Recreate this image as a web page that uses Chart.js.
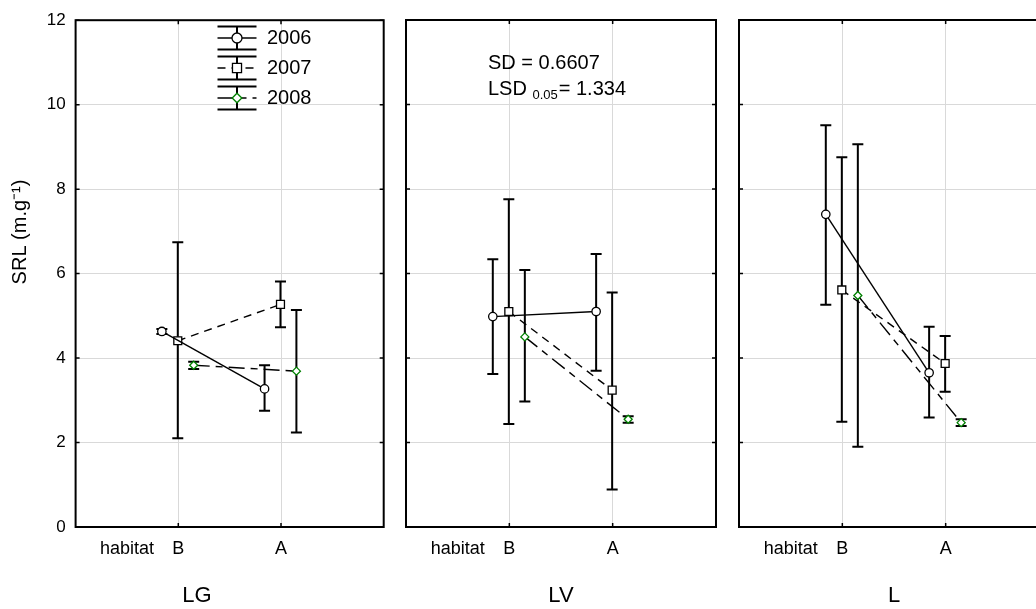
<!DOCTYPE html>
<html>
<head>
<meta charset="utf-8">
<script src="https://cdn.jsdelivr.net/npm/chart.js@4.4.0/dist/chart.umd.min.js"></script>
<style>
html, body { margin:0; padding:0; background:#fff; overflow:hidden; width:1036px; height:609px; position:relative; }
canvas { position:absolute; top:0; }
#c1 { left:0; }
#c2 { left:394px; }
#c3 { left:728px; }
</style>
</head>
<body>
<canvas id="c1" width="394" height="609"></canvas>
<canvas id="c2" width="334" height="609"></canvas>
<canvas id="c3" width="332" height="609"></canvas>
<script>
// ---------- DATA ----------
const panelNames = ['LG', 'LV', 'L'];
const habitats = ['B', 'A'];
const years = ['2006', '2007', '2008'];
const yTickValues = [0, 2, 4, 6, 8, 10, 12];

// rows = years (2006, 2007, 2008); columns = habitats (B, A)
const LG_mean = [[4.63, 3.27], [4.41, 5.27], [3.83, 3.69]];
const LG_lo   = [[4.57, 2.75], [2.10, 4.73], [3.74, 2.24]];
const LG_hi   = [[4.69, 3.83], [6.74, 5.81], [3.91, 5.14]];

const LV_mean = [[4.98, 5.10], [5.10, 3.24], [4.50, 2.55]];
const LV_lo   = [[3.62, 3.70], [2.44, 0.89], [2.97, 2.47]];
const LV_hi   = [[6.34, 6.46], [7.76, 5.55], [6.08, 2.62]];

const L_mean  = [[7.40, 3.65], [5.61, 3.87], [5.48, 2.47]];
const L_lo    = [[5.26, 2.59], [2.49, 3.20], [1.90, 2.39]];
const L_hi    = [[9.51, 4.74], [8.75, 4.52], [9.06, 2.55]];

const statLines = ['SD = 0.6607', 'LSD', '0.05', '= 1.334'];

// ---------- STYLE ----------
const FONT = "'Liberation Sans', Arial, Helvetica, sans-serif";
const GRID = '#d9d9d9';
const seriesStyle = [
  { pointStyle: 'circle',  radius: 4.2, color: '#000000', dash: [] },
  { pointStyle: 'rect',    radius: 5.6, color: '#000000', dash: [8, 6] },
  { pointStyle: 'rectRot', radius: 4,   color: '#008000', dash: [16, 6, 7, 6] }
];
const dodge = [-0.16, -0.005, 0.15];

function buildDatasets(mean, lo, hi) {
  return years.map((yr, s) => ({
    label: yr,
    data: habitats.map((h, i) => ({ x: i + 1 + dodge[s], y: mean[s][i] })),
    errLo: lo[s],
    errHi: hi[s],
    borderColor: '#000',
    borderWidth: 1.4,
    borderDash: seriesStyle[s].dash,
    pointStyle: seriesStyle[s].pointStyle,
    pointRadius: seriesStyle[s].radius,
    pointHoverRadius: seriesStyle[s].radius,
    pointBorderColor: seriesStyle[s].color,
    pointBackgroundColor: '#ffffff',
    pointBorderWidth: 1.3,
    fill: false,
    tension: 0
  }));
}

// ---------- PLUGINS ----------
const errorBars = {
  id: 'errorBars',
  beforeDatasetsDraw(chart) {
    const ctx = chart.ctx, ys = chart.scales.y;
    ctx.save();
    ctx.strokeStyle = '#000';
    ctx.lineWidth = 2;
    ctx.setLineDash([]);
    chart.data.datasets.forEach((ds, di) => {
      chart.getDatasetMeta(di).data.forEach((pt, i) => {
        const x = pt.x;
        const yl = ys.getPixelForValue(ds.errLo[i]);
        const yh = ys.getPixelForValue(ds.errHi[i]);
        ctx.beginPath();
        ctx.moveTo(x, yl); ctx.lineTo(x, yh);
        ctx.moveTo(x - 5.5, yl); ctx.lineTo(x + 5.5, yl);
        ctx.moveTo(x - 5.5, yh); ctx.lineTo(x + 5.5, yh);
        ctx.stroke();
      });
    });
    ctx.restore();
  }
};

const frame = {
  id: 'frame',
  afterDatasetsDraw(chart) {
    const { ctx, chartArea: a, scales: { x, y } } = chart;
    ctx.save();
    ctx.strokeStyle = '#000';
    ctx.setLineDash([]);
    ctx.lineWidth = 2;
    ctx.strokeRect(a.left, a.top, a.right - a.left, a.bottom - a.top);
    ctx.lineWidth = 1.5;
    ctx.beginPath();
    yTickValues.forEach(v => {
      const py = y.getPixelForValue(v);
      ctx.moveTo(a.left, py); ctx.lineTo(a.left + 4, py);
      ctx.moveTo(a.right, py); ctx.lineTo(a.right - 4, py);
    });
    [1, 2].forEach(v => {
      const px = x.getPixelForValue(v);
      ctx.moveTo(px, a.top); ctx.lineTo(px, a.top + 4);
      ctx.moveTo(px, a.bottom); ctx.lineTo(px, a.bottom - 4);
    });
    ctx.stroke();
    ctx.restore();
  }
};

const yTitle = {
  id: 'yTitle',
  afterDraw(chart) {
    const ctx = chart.ctx;
    ctx.save();
    ctx.translate(20, 232);
    ctx.rotate(-Math.PI / 2);
    ctx.fillStyle = '#000';
    ctx.font = '20px ' + FONT;
    ctx.textAlign = 'center';
    ctx.textBaseline = 'middle';
    ctx.fillText('SRL (m.g\u207B\u00B9)', 0, 0);
    ctx.restore();
  }
};

const legendBox = {
  id: 'legendBox',
  afterDraw(chart) {
    const ctx = chart.ctx;
    const cx = 237, tx = 267;
    ctx.save();
    years.forEach((yr, s) => {
      const cy = 38 + s * 30;
      const st = seriesStyle[s];
      ctx.strokeStyle = '#000';
      ctx.lineWidth = 2;
      ctx.setLineDash([]);
      ctx.beginPath();
      ctx.moveTo(cx - 19.5, cy - 11.5); ctx.lineTo(cx + 19.5, cy - 11.5);
      ctx.moveTo(cx - 19.5, cy + 11.5); ctx.lineTo(cx + 19.5, cy + 11.5);
      ctx.moveTo(cx, cy - 11.5); ctx.lineTo(cx, cy + 11.5);
      ctx.stroke();
      ctx.lineWidth = 1.4;
      ctx.setLineDash(st.dash);
      ctx.beginPath();
      ctx.moveTo(cx - 19.5, cy); ctx.lineTo(cx + 19.5, cy);
      ctx.stroke();
      ctx.setLineDash([]);
      ctx.fillStyle = '#fff';
      ctx.strokeStyle = st.color;
      ctx.lineWidth = 1.3;
      Chart.helpers.drawPoint(ctx, { pointStyle: st.pointStyle, radius: st.radius + 0.8, borderWidth: 1.3, rotation: 0 }, cx, cy);
      ctx.fillStyle = '#000';
      ctx.font = '20px ' + FONT;
      ctx.textAlign = 'left';
      ctx.textBaseline = 'middle';
      ctx.fillText(yr, tx, cy);
    });
    ctx.restore();
  }
};

const statText = {
  id: 'statText',
  afterDraw(chart) {
    const ctx = chart.ctx;
    const x0 = chart.chartArea.left + 82;
    ctx.save();
    ctx.fillStyle = '#000';
    ctx.textAlign = 'left';
    ctx.textBaseline = 'alphabetic';
    ctx.font = '20px ' + FONT;
    ctx.fillText(statLines[0], x0, 68.5);
    let x = x0;
    ctx.fillText(statLines[1] + ' ', x, 95);
    x += ctx.measureText(statLines[1] + ' ').width;
    ctx.font = '13px ' + FONT;
    ctx.fillText(statLines[2], x, 98.5);
    x += ctx.measureText(statLines[2]).width + 1;
    ctx.font = '20px ' + FONT;
    ctx.fillText(statLines[3], x, 95);
    ctx.restore();
  }
};

// ---------- CHARTS ----------
function makeChart(canvasId, name, mean, lo, hi, pl, pr, yWidth, showY, extra) {
  return new Chart(document.getElementById(canvasId), {
    type: 'line',
    data: { datasets: buildDatasets(mean, lo, hi) },
    options: {
      responsive: false,
      animation: false,
      events: [],
      layout: { padding: { top: 20, left: pl, right: pr, bottom: 0 } },
      plugins: {
        legend: { display: false },
        tooltip: { enabled: false },
        title: {
          display: true, text: name, position: 'bottom', padding: 0,
          color: '#000', font: { family: FONT, size: 22, weight: 'normal', lineHeight: 1.2 }
        }
      },
      scales: {
        x: {
          type: 'linear', min: 0, max: 3,
          afterBuildTicks: s => { s.ticks = [0.5, 1, 2].map(v => ({ value: v })); },
          afterFit: s => { s.height = 55.6; },
          grid: {
            color: c => (c.tick && c.tick.value === 0.5) ? 'rgba(0,0,0,0)' : GRID,
            lineWidth: 1, drawTicks: false
          },
          border: { display: false },
          ticks: {
            autoSkip: false, maxRotation: 0, minRotation: 0, padding: 11, color: '#000',
            font: { family: FONT, size: 18 },
            callback: v => v === 0.5 ? 'habitat' : habitats[Math.round(v) - 1]
          }
        },
        y: {
          type: 'linear', min: 0, max: 12,
          afterBuildTicks: s => { s.ticks = yTickValues.map(v => ({ value: v })); },
          afterFit: s => { s.width = yWidth; },
          grid: { color: GRID, lineWidth: 1, drawTicks: false },
          border: { display: false },
          ticks: { display: showY, padding: 10, color: '#000', font: { family: FONT, size: 17 } }
        }
      }
    },
    plugins: [errorBars, frame].concat(extra)
  });
}

makeChart('c1', panelNames[0], LG_mean, LG_lo, LG_hi, 10.3, 10.3, 65.3, true, [yTitle, legendBox]);
makeChart('c2', panelNames[1], LV_mean, LV_lo, LV_hi, 12, 12, 0, false, [statText]);
makeChart('c3', panelNames[2], L_mean, L_lo, L_hi, 11, 11, 0, false, []);
</script>
</body>
</html>
